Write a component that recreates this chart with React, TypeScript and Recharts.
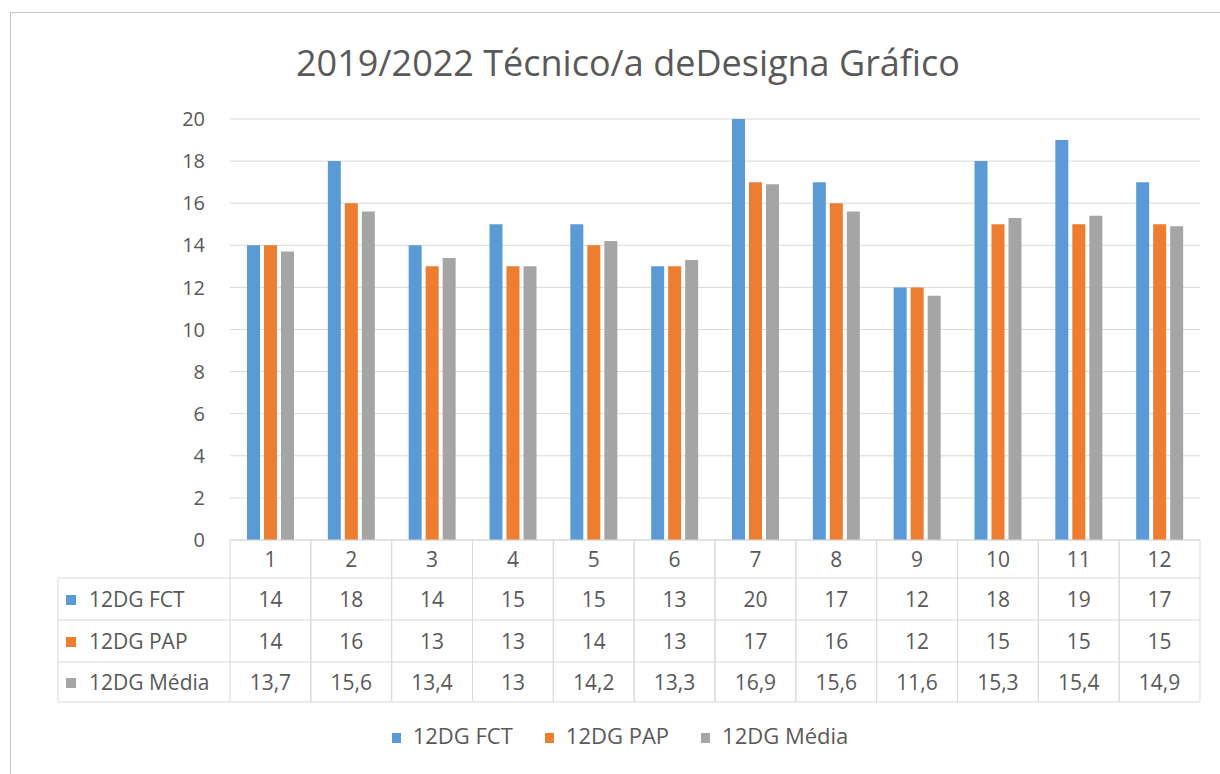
import React from 'react';
import { BarChart, Bar, XAxis, YAxis, CartesianGrid, Legend } from 'recharts';

const categories = ['1', '2', '3', '4', '5', '6', '7', '8', '9', '10', '11', '12'];
const fct = [14, 18, 14, 15, 15, 13, 20, 17, 12, 18, 19, 17];
const pap = [14, 16, 13, 13, 14, 13, 17, 16, 12, 15, 15, 15];
const media = [13.7, 15.6, 13.4, 13, 14.2, 13.3, 16.9, 15.6, 11.6, 15.3, 15.4, 14.9];
const yTicks = [0, 2, 4, 6, 8, 10, 12, 14, 16, 18, 20];

const seriesInfo = [
  { key: 'fct', name: '12DG FCT', color: '#5b9bd5', values: fct },
  { key: 'pap', name: '12DG PAP', color: '#ed7d31', values: pap },
  { key: 'media', name: '12DG Média', color: '#a5a5a5', values: media },
];

const data = categories.map((c, i) => ({ cat: c, fct: fct[i], pap: pap[i], media: media[i] }));

const W = 1220;
const H = 774;
const PLOT_LEFT = 230;
const PLOT_RIGHT = 1200;
const COL_W = (PLOT_RIGHT - PLOT_LEFT) / categories.length;
const LABEL_LEFT = 58;
const ROWS = [540, 578, 620, 662, 702];
const GRID = '#d9d9d9';
const TEXT = '#595959';
const font = '"Open Sans", sans-serif';

const fmt = (v: number) => String(v).replace('.', ',');

// x-axis tick draws one column of the data table under the plot
function TableTick(props: any) {
  const { x, payload } = props;
  const i = payload.index;
  const top = ROWS[0];
  const l = x - COL_W / 2;
  const r = x + COL_W / 2;
  const rowMid = (k: number) => (ROWS[k] + ROWS[k + 1]) / 2;
  return (
    <g>
      <line x1={l} y1={top} x2={l} y2={ROWS[4]} stroke={GRID} />
      <line x1={r} y1={top} x2={r} y2={ROWS[4]} stroke={GRID} />
      {ROWS.map((y, k) => (
        <line key={k} x1={l} y1={y} x2={r} y2={y} stroke={GRID} />
      ))}
      <text x={x} y={rowMid(0)} textAnchor="middle" dominantBaseline="central" fill={TEXT} fontSize={21} fontFamily={font}>
        {payload.value}
      </text>
      {seriesInfo.map((s, k) => (
        <text key={s.key} x={x} y={rowMid(k + 1)} textAnchor="middle" dominantBaseline="central" fill={TEXT} fontSize={21} fontFamily={font}>
          {fmt(s.values[i])}
        </text>
      ))}
      {i === 0 && (
        <g>
          {ROWS.slice(1).map((y, k) => (
            <line key={k} x1={LABEL_LEFT} y1={y} x2={l} y2={y} stroke={GRID} />
          ))}
          <line x1={LABEL_LEFT} y1={ROWS[1]} x2={LABEL_LEFT} y2={ROWS[4]} stroke={GRID} />
          {seriesInfo.map((s, k) => (
            <g key={s.key}>
              <rect x={66} y={rowMid(k + 1) - 4} width={10} height={10} fill={s.color} />
              <text x={89} y={rowMid(k + 1)} dominantBaseline="central" fill={TEXT} fontSize={21} fontFamily={font}>
                {s.name}
              </text>
            </g>
          ))}
        </g>
      )}
    </g>
  );
}

function LegendContent() {
  return (
    <div style={{ height: 72, display: 'flex', justifyContent: 'center', alignItems: 'flex-start', paddingTop: 18, paddingLeft: 40, boxSizing: 'border-box', fontFamily: font, fontSize: 22, color: TEXT }}>
      {seriesInfo.map((s, k) => (
        <div key={s.key} style={{ display: 'flex', alignItems: 'center', marginRight: k < 2 ? 32 : 0 }}>
          <span style={{ display: 'inline-block', width: 9, height: 10, background: s.color, marginRight: 12, marginTop: 6 }} />
          <span>{s.name}</span>
        </div>
      ))}
    </div>
  );
}

export default function App() {
  return (
    <div style={{ position: 'absolute', left: 0, top: 0, width: W, height: H, background: '#fff', overflow: 'hidden' }}>
      <div style={{ position: 'absolute', left: 10, top: 12, width: W, height: H, border: '1px solid #c6c6c6' }} />
      <div style={{ position: 'absolute', left: 0, top: 38, width: 1256, textAlign: 'center', fontFamily: font, fontSize: 36, color: TEXT }}>
        2019/2022 Técnico/a deDesigna Gráfico
      </div>
      <BarChart
        width={W}
        height={H}
        data={data}
        margin={{ top: 119, right: W - PLOT_RIGHT, left: 0, bottom: 0 }}
        barSize={13}
        barGap={4}
        style={{ position: 'absolute', left: 0, top: 0 }}
      >
        <CartesianGrid vertical={false} stroke={GRID} />
        <YAxis
          width={PLOT_LEFT}
          domain={[0, 20]}
          ticks={yTicks}
          axisLine={false}
          tickLine={false}
          tickSize={0}
          tickMargin={25}
          tick={{ fill: TEXT, fontSize: 20, fontFamily: font }}
        />
        <XAxis
          dataKey="cat"
          height={162}
          interval={0}
          axisLine={false}
          tickLine={false}
          tickSize={0}
          tick={<TableTick />}
        />
        <Legend verticalAlign="bottom" height={72} content={<LegendContent />} />
        {seriesInfo.map((s) => (
          <Bar key={s.key} dataKey={s.key} name={s.name} fill={s.color} isAnimationActive={false} />
        ))}
      </BarChart>
    </div>
  );
}
